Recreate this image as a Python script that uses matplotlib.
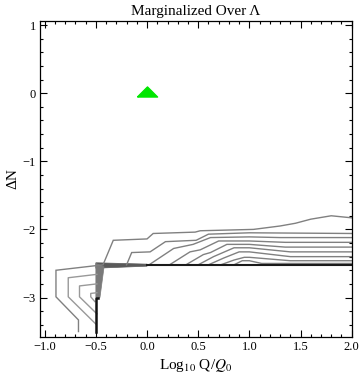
import matplotlib
matplotlib.use("Agg")
import matplotlib.pyplot as plt
import numpy as np

# ---------------- data ----------------
c1_x = [-0.67, -0.67, -0.89, -0.89, -0.43, -0.33, 0.0, 0.06, 0.47, 0.52, 1.04, 1.3, 1.45, 1.6, 1.8, 2.0]
c1_y = [-3.5, -3.33, -2.99, -2.60, -2.52, -2.16, -2.14, -2.06, -2.04, -2.02, -2.0, -1.95, -1.91, -1.85, -1.80, -1.83]
c2_x = [-0.2, -0.15, 0.03, 0.18, 0.48, 0.6, 1.0, 2.0]
c2_y = [-2.52, -2.34, -2.33, -2.18, -2.16, -2.07, -2.05, -2.06]
c3_x = [0.02, 0.26, 0.45, 0.62, 1.0, 1.3, 2.0]
c3_y = [-2.52, -2.28, -2.22, -2.12, -2.11, -2.12, -2.12]
c4_x = [0.22, 0.42, 0.52, 0.7, 1.0, 1.35, 2.0]
c4_y = [-2.52, -2.33, -2.30, -2.17, -2.17, -2.19, -2.19]
c5_x = [0.38, 0.55, 0.62, 0.78, 1.0, 1.35, 2.0]
c5_y = [-2.52, -2.37, -2.34, -2.22, -2.22, -2.26, -2.26]
c6_x = [0.5, 0.65, 0.85, 1.0, 1.4, 2.0]
c6_y = [-2.52, -2.40, -2.27, -2.27, -2.33, -2.33]
c7_x = [0.6, 0.75, 0.9, 1.0, 1.4, 2.0]
c7_y = [-2.52, -2.42, -2.33, -2.33, -2.40, -2.40]
c8_x = [0.72, 0.85, 0.95, 1.0, 1.4, 2.0]
c8_y = [-2.52, -2.45, -2.41, -2.41, -2.46, -2.46]
c9_x = [0.85, 0.93, 1.0, 1.12, 2.0]
c9_y = [-2.52, -2.46, -2.46, -2.50, -2.50]
# nested contours on the left
l2_x = [-0.49, -0.77, -0.77, -0.5]
l2_y = [-2.66, -2.71, -2.99, -3.39]
l3_x = [-0.49, -0.66, -0.66, -0.49]
l3_y = [-2.80, -2.83, -2.99, -3.24]
l4_x = [-0.49, -0.55, -0.55, -0.51]
l4_y = [-2.93, -2.94, -2.99, -3.06]
# dense (overlapping) region
band_x = [-0.5, 0.0, 0.0, -0.5]
band_y = [-2.49, -2.51, -2.54, -2.57]
wedge_x = [-0.5, -0.42, -0.46, -0.5]
wedge_y = [-2.50, -2.55, -3.0, -3.0]
base_x = [0.0, 2.0]
base_y = [-2.52, -2.52]
stem_x = [-0.48, -0.5, -0.5]
stem_y = [-3.0, -3.0, -3.5]
point_x = [0.0]
point_y = [0.0]

xticks = [-1.0, -0.5, 0.0, 0.5, 1.0, 1.5, 2.0]
yticks = [1, 0, -1, -2, -3]

# ---------------- plot ----------------
plt.rcParams['font.family'] = ['Liberation Serif', 'DejaVu Serif']
plt.rcParams['mathtext.fontset'] = 'stix'

fig = plt.figure(figsize=(3.6, 3.78), dpi=100)
ax = fig.add_axes([40/360, 1-337/378, 312/360, 316/378])

gray = '#808080'
for xs, ys in [(c1_x, c1_y), (c2_x, c2_y), (c3_x, c3_y), (c4_x, c4_y), (c5_x, c5_y),
               (c6_x, c6_y), (c7_x, c7_y), (c8_x, c8_y), (c9_x, c9_y)]:
    ax.plot(xs, ys, color=gray, lw=1.0, solid_joinstyle='miter')
for xs, ys in [(l2_x, l2_y), (l3_x, l3_y), (l4_x, l4_y)]:
    ax.plot(xs, ys, color='#999999', lw=1.0)

ax.fill(band_x, band_y, color='#5a5a5a', lw=0.5, ec='#5a5a5a')
ax.fill(wedge_x, wedge_y, color='#7a7a7a', lw=0.5, ec='#7a7a7a')
ax.plot(base_x, base_y, color='#1a1a1a', lw=1.5)
ax.plot(stem_x, stem_y, color='#111111', lw=1.8)

tri = [(-1, -0.35), (1, -0.35), (0, 0.65), (-1, -0.35)]
ax.plot(point_x, point_y, marker=tri, markersize=14.5, color='#00e600', ls='none')

ax.set_xlim(-1.046, 2.003)
ax.set_ylim(-3.58, 1.06)
ax.set_xticks(xticks)
ax.set_xticklabels([f"{v:.1f}".replace('-', '\u2212') for v in xticks])
ax.set_yticks(yticks)
ax.set_yticklabels([str(v).replace('-', '\u2212') for v in yticks])
ax.set_xticks(np.arange(-1.0, 2.01, 0.1), minor=True)
ax.set_yticks(np.arange(-3.4, 1.01, 0.2), minor=True)
ax.tick_params(which='both', direction='in', top=True, right=True, labelsize=9, pad=3, width=0.8)
ax.tick_params(which='major', length=5)
ax.tick_params(which='minor', length=2.5)
for s in ax.spines.values():
    s.set_linewidth(0.9)

ax.set_title('Marginalized Over \u039b', fontsize=11, pad=4)
ax.set_xlabel('Log$_{10}$ Q/$Q_0$', fontsize=11, labelpad=3)
ax.set_ylabel('\u0394N', fontsize=11, labelpad=2)

fig.savefig('out.png', dpi=100)
